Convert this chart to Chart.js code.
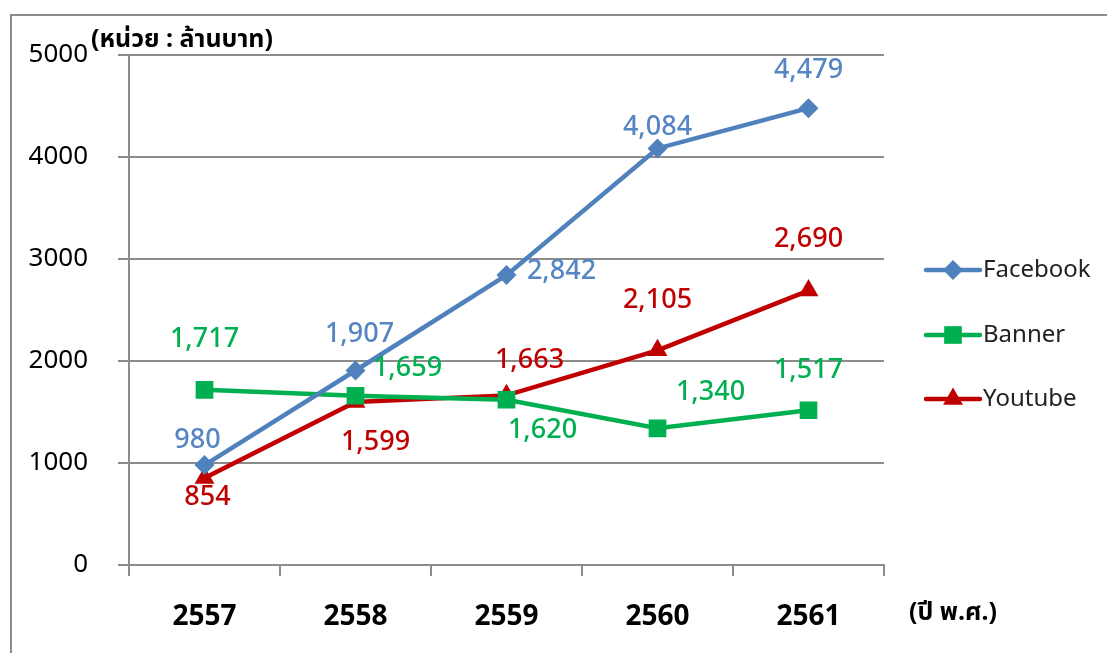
<!DOCTYPE html>
<html>
<head>
<meta charset="utf-8">
<script src="https://cdn.jsdelivr.net/npm/chart.js@4.4.0/dist/chart.umd.min.js"></script>
<style>
  body { margin: 0; background: #fff; }
  canvas { display: block; }
</style>
</head>
<body>
<canvas id="adChart" width="1107" height="653"></canvas>
<script>
const years = ["2557", "2558", "2559", "2560", "2561"];
const facebook = [980, 1907, 2842, 4084, 4479];
const banner = [1717, 1659, 1620, 1340, 1517];
const youtube = [854, 1599, 1663, 2105, 2690];
const yTicks = [0, 1000, 2000, 3000, 4000, 5000];

const unitText = "(หน่วย : ล้านบาท)";
const yearText = "(ปี พ.ศ.)";

const FONT = "'Noto Sans', 'Noto Sans Thai', Loma, Garuda, sans-serif";

// where each value label sits relative to its point (px)
const labelShift = {
    Facebook: [[-7, -25], [4, -36], [55, -4], [0, -21], [0, -38]],
    Banner: [[0, -51], [52, -27], [36, 31], [53, -36], [0, -40]],
    Youtube: [[3, 19], [20, 40], [23, -35], [0, -50], [0, -51]]
};
const labelColor = { Facebook: "#5585c3", Banner: "#00b050", Youtube: "#c00000" };

const fmt = v => v.toLocaleString("en-US");

const extras = {
    id: "extras",
    afterDatasetsDraw(chart) {
        let ctx = chart.ctx;
        ctx.save();
        ctx.font = "500 27px " + FONT;
        ctx.textAlign = "center";
        ctx.textBaseline = "middle";
        chart.data.datasets.forEach((ds, i) => {
            let meta = chart.getDatasetMeta(i);
            meta.data.forEach((pt, j) => {
                let s = labelShift[ds.label][j];
                ctx.fillStyle = labelColor[ds.label];
                ctx.fillText(fmt(ds.data[j]), pt.x + s[0], pt.y + s[1]);
            });
        });
        ctx.restore();
    },
    afterDraw(chart) {
        let ctx = chart.ctx;
        ctx.save();

        // outer frame (top and left only, rest is cropped)
        ctx.strokeStyle = "#8c8c8c";
        ctx.lineWidth = 2;
        ctx.beginPath();
        ctx.moveTo(11, 653);
        ctx.lineTo(11, 15);
        ctx.lineTo(1107, 15);
        ctx.stroke();

        // unit labels
        ctx.fillStyle = "#000";
        ctx.font = "bold 25px " + FONT;
        ctx.textBaseline = "middle";
        ctx.textAlign = "left";
        ctx.fillText(unitText, 91, 40);
        ctx.fillText(yearText, 909, 613);

        // legend
        let rows = [270, 335, 399];
        chart.data.datasets.forEach((ds, i) => {
            let y = rows[i];
            ctx.strokeStyle = ds.borderColor;
            ctx.lineWidth = 4.5;
            ctx.lineCap = "round";
            ctx.beginPath();
            ctx.moveTo(926, y);
            ctx.lineTo(980, y);
            ctx.stroke();
            ctx.fillStyle = ds.backgroundColor;
            Chart.helpers.drawPoint(ctx, {
                pointStyle: ds.pointStyle,
                radius: ds.pointRadius,
                rotation: 0,
                borderWidth: 0
            }, 953, y);
            ctx.fillStyle = "#222";
            ctx.font = "24px " + FONT;
            ctx.textAlign = "left";
            ctx.fillText(ds.label, 983, y);
        });
        ctx.restore();
    }
};

new Chart(document.getElementById("adChart"), {
    type: "line",
    data: {
        labels: years,
        datasets: [
            { label: "Facebook", data: facebook, borderColor: "#4f81bd", backgroundColor: "#4f81bd",
              pointStyle: "rectRot", pointRadius: 10 },
            { label: "Banner", data: banner, borderColor: "#00b050", backgroundColor: "#00b050",
              pointStyle: "rect", pointRadius: 12.5 },
            { label: "Youtube", data: youtube, borderColor: "#c00000", backgroundColor: "#c00000",
              pointStyle: "triangle", pointRadius: 11.5 }
        ]
    },
    options: {
        responsive: false,
        animation: false,
        devicePixelRatio: 1,
        layout: { padding: { left: 0, right: 223, top: 55, bottom: 0 } },
        elements: {
            line: { borderWidth: 4.5, tension: 0 },
            point: { borderWidth: 0, hoverRadius: 10 }
        },
        plugins: {
            legend: { display: false },
            tooltip: { enabled: false }
        },
        scales: {
            x: {
                offset: true,
                grid: { offset: true, drawOnChartArea: false, tickLength: 11, color: "#8c8c8c", lineWidth: 2 },
                border: { color: "#8c8c8c", width: 2 },
                ticks: { color: "#000", padding: 24, font: { family: FONT, size: 28, weight: "bold" } },
                afterFit: s => { s.height = 88; }
            },
            y: {
                min: 0,
                max: 5000,
                afterBuildTicks: s => { s.ticks = yTicks.map(v => ({ value: v })); },
                grid: { tickLength: 11, color: "#8c8c8c", lineWidth: 2 },
                border: { color: "#8c8c8c", width: 2 },
                ticks: { color: "#000", padding: 30, font: { family: FONT, size: 26 }, callback: v => String(v) },
                afterFit: s => { s.width = 129; }
            }
        }
    },
    plugins: [extras]
});
</script>
</body>
</html>
